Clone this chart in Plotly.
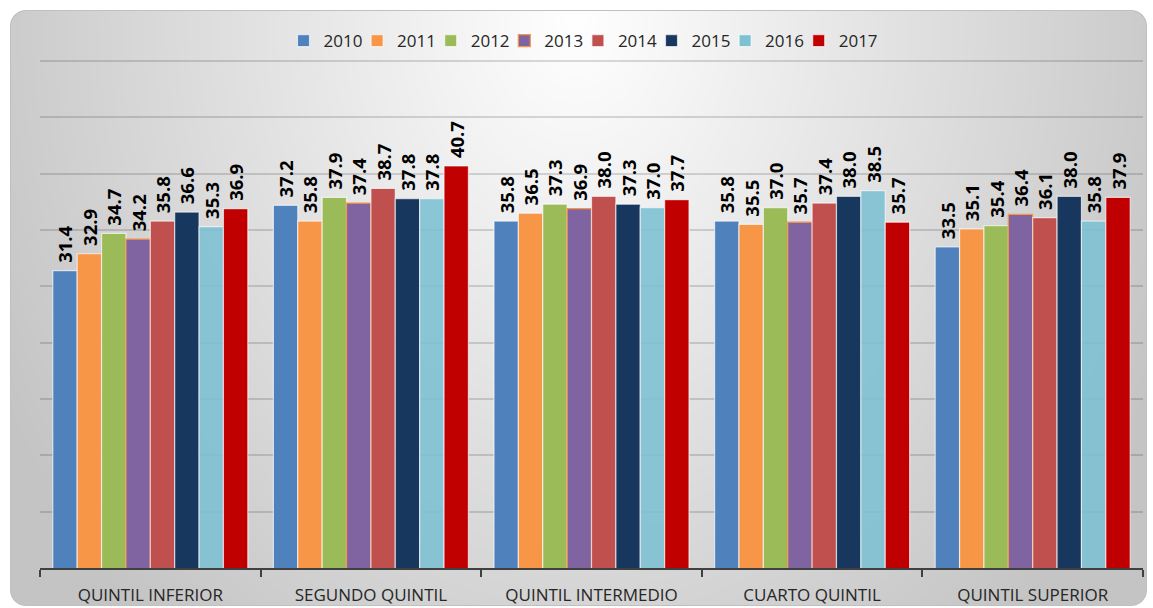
import base64, struct, zlib
import numpy as np
import plotly.graph_objects as go

# ---------------- data ----------------
categories = ["QUINTIL INFERIOR", "SEGUNDO QUINTIL", "QUINTIL INTERMEDIO",
              "CUARTO QUINTIL", "QUINTIL SUPERIOR"]
years = ["2010", "2011", "2012", "2013", "2014", "2015", "2016", "2017"]
v2010 = [31.4, 37.2, 35.8, 35.8, 33.5]
v2011 = [32.9, 35.8, 36.5, 35.5, 35.1]
v2012 = [34.7, 37.9, 37.3, 37.0, 35.4]
v2013 = [34.2, 37.4, 36.9, 35.7, 36.4]
v2014 = [35.8, 38.7, 38.0, 37.4, 36.1]
v2015 = [36.6, 37.8, 37.3, 38.0, 38.0]
v2016 = [35.3, 37.8, 37.0, 38.5, 35.8]
v2017 = [36.9, 40.7, 37.7, 35.7, 37.9]
series = [v2010, v2011, v2012, v2013, v2014, v2015, v2016, v2017]

colors = ["#4F81BD", "#F79646", "#9BBB59", "#8064A2", "#C0504D",
          "#17375E", "#7DC1D3", "#C00000"]

# ---------------- background image (radial grey gradient, rounded box) ----------------
W, H = 1153, 608
yy, xx = np.mgrid[0:H, 0:W].astype(float)
xx += 0.5
yy += 0.5
cx, cy = 576.0, 20.0
d = np.sqrt(((xx - cx) / 654.0) ** 2 + ((yy - cy) / 820.0) ** 2)
d = np.clip(d, 0, 1)
val = 255 - 59 * d
x0, y0, x1, y1, r = 10.0, 10.0, 1147.0, 606.0, 16.0
qx = np.maximum(np.maximum(x0 + r - xx, xx - (x1 - r)), 0)
qy = np.maximum(np.maximum(y0 + r - yy, yy - (y1 - r)), 0)
dist = np.sqrt(qx ** 2 + qy ** 2)
alpha = np.clip(r + 0.5 - dist, 0, 1)
edge = (r - dist) < 1.2
val = np.where(edge, np.minimum(val, 192), val)
rgba = np.zeros((H, W, 4), dtype=np.uint8)
rgba[..., 0] = val
rgba[..., 1] = val
rgba[..., 2] = val
rgba[..., 3] = (alpha * 255).astype(np.uint8)


def make_png(arr):
    h, w = arr.shape[:2]
    raw = b"".join(b"\x00" + arr[i].tobytes() for i in range(h))

    def chunk(t, data):
        c = struct.pack(">I", len(data)) + t + data
        return c + struct.pack(">I", zlib.crc32(t + data) & 0xFFFFFFFF)

    return (b"\x89PNG\r\n\x1a\n"
            + chunk(b"IHDR", struct.pack(">IIBBBBB", w, h, 8, 6, 0, 0, 0))
            + chunk(b"IDAT", zlib.compress(raw, 9))
            + chunk(b"IEND", b""))


img_src = "data:image/png;base64," + base64.b64encode(make_png(rgba)).decode()

# ---------------- figure ----------------
ML, MR, MT, MB = 40, 10, 60, 40
PW, PH = W - ML - MR, H - MT - MB
LEG_LEFT, LEG_PITCH = 283.5, 73.6

fig = go.Figure()
legends = {}
for i, (yr, vals, col) in enumerate(zip(years, series, colors)):
    line_col = "#F79646" if yr == "2013" else "rgba(255,255,255,0.65)"
    lname = "legend" if i == 0 else f"legend{i + 1}"
    fig.add_trace(go.Bar(
        x=categories, y=vals, name=yr, legend=lname,
        marker=dict(color=col, line=dict(color=line_col, width=1.2),
                    opacity=0.88 if yr == "2016" else 1),
        text=["\u00a0" + f"{v:.1f}" for v in vals],
        textposition="outside", textangle=-90,
        textfont=dict(family="Open Sans", size=18.5, color="#000000", weight="bold"),
        cliponaxis=False, constraintext="none",
        hoverinfo="skip",
    ))
    legends[lname] = dict(
        orientation="h", xref="paper",
        x=(LEG_LEFT + i * LEG_PITCH - ML) / PW, xanchor="left",
        yref="container", y=1 - 41 / H, yanchor="middle",
        font=dict(size=17, color="#262626"),
        bgcolor="rgba(0,0,0,0)", borderwidth=0)

fig.update_layout(
    width=W, height=H,
    margin=dict(l=ML, r=MR, t=MT, b=MB, pad=0, autoexpand=False),
    paper_bgcolor="white", plot_bgcolor="rgba(0,0,0,0)",
    barmode="group", bargap=0.116, bargroupgap=0,
    font=dict(family="Open Sans", color="#262626"),
    images=[dict(source=img_src, xref="paper", yref="paper",
                 x=-ML / PW, y=1 + MT / PH, sizex=W / PW, sizey=H / PH,
                 xanchor="left", yanchor="top", sizing="stretch",
                 layer="below")],
    showlegend=True,
    **legends,
)
fig.update_xaxes(showline=True, linecolor="#404040", linewidth=2,
                 ticks="outside", tickson="boundaries", ticklen=7,
                 tickwidth=2, tickcolor="#404040", ticklabelstandoff=11,
                 automargin=False,
                 tickfont=dict(size=17, color="#262626"), showgrid=False)
fig.update_yaxes(range=[5, 50.1], tick0=0, dtick=5, showticklabels=False,
                 automargin=False,
                 showgrid=True, gridcolor="rgba(0,0,0,0.14)", gridwidth=1.5,
                 zeroline=False, showline=False, ticks="")

fig.write_html("out.html", config={"displayModeBar": False},
               post_script="document.body.style.margin='0';document.body.style.overflow='hidden';")
